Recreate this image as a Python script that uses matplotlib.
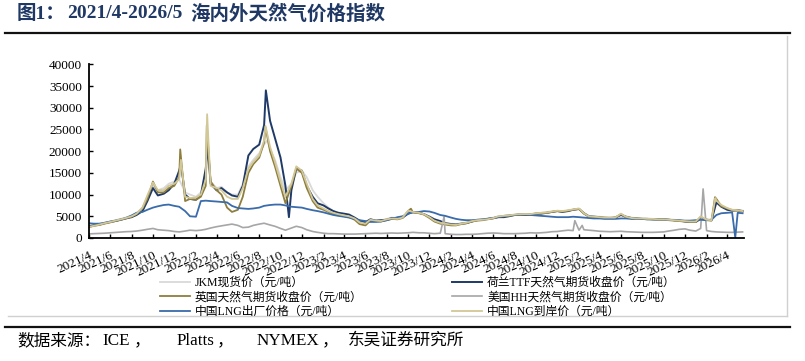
import matplotlib
matplotlib.use('Agg')
import matplotlib.pyplot as plt
from matplotlib.lines import Line2D
import pandas as pd

CJK = 'Noto Sans CJK SC'
SERIF = 'Liberation Serif'
MIX = [SERIF, CJK]

W, H = 805, 361

# ---------------- data (yuan/ton), semi-monthly: 1st & 15th, 2021/4 .. 2026/5 ----------------
grid = pd.date_range('2021-04-01', periods=124, freq='SMS')

jkm = [2800, 3000, 3300, 3500, 3800, 4100, 4400, 4700, 5100, 5700, 7000, 9500, 12000, 11000, 11500, 12500, 13000, 13500,
       10500, 10000, 9500, 10500, 15000, 13000, 11500, 11800, 10500, 10000, 10000, 12500, 16500, 18000, 19500, 21500, 20500, 18000, 14000, 11000, 12500, 15000, 15500, 14000,
       11000, 9500, 8000, 7000, 6200, 5900, 5500, 5200, 4600, 4000, 3800, 4300, 4100, 4100, 4400, 4700, 4600, 4800, 6000, 5900, 5800, 5500, 5000, 4400,
       3800, 3500, 3300, 3200, 3400, 3600, 4000, 4200, 4300, 4500, 4700, 5000, 5100, 5200, 5400, 5500, 5400, 5500, 5700, 5800, 6000, 6100, 6200, 6100,
       6300, 6500, 6600, 5800, 5100, 5000, 4900, 4800, 4800, 4800, 5400, 5000, 4700, 4600, 4500, 4500, 4400, 4400, 4400, 4300, 4200, 4100, 3900, 3800,
       3900, 4600, 4300, 4200, 8800, 7500, 6800, 6500, 6500, 6300]
jkm_spike_dates = ['2022-03-07', '2022-08-24']
jkm_spike_vals = [18000, 22500]

ttf = [2700, 2900, 3100, 3400, 3700, 3900, 4200, 4500, 4800, 5300, 6200, 8500, 11500, 9800, 10200, 11000, 12500, 15500,
       10000, 9000, 8800, 9800, 16000, 12500, 11000, 11500, 10500, 9800, 9500, 12000, 19000, 20500, 21500, 26000, 27000, 23000, 18500, 12000, 11000, 16000, 15500, 12000,
       9500, 8000, 7500, 6800, 6200, 5800, 5600, 5400, 4700, 4000, 3600, 4300, 4000, 4100, 4200, 4600, 4500, 4700, 5600, 6000, 5800, 5500, 4900, 4300,
       3900, 3400, 3200, 3100, 3300, 3400, 3800, 4100, 4200, 4400, 4600, 4800, 4800, 5000, 5300, 5400, 5300, 5400, 5600, 5600, 5800, 6000, 6200, 6000,
       6200, 6500, 6700, 5700, 5000, 4900, 4800, 4600, 4600, 4700, 5300, 4900, 4600, 4500, 4400, 4400, 4300, 4300, 4300, 4200, 4100, 4000, 3800, 3700,
       3700, 4400, 4200, 4100, 8200, 7200, 6500, 6300, 6400, 6200]
ttf_spike_dates = ['2021-12-20', '2022-03-07', '2022-08-20', '2022-10-25']
ttf_spike_vals = [17000, 21000, 34000, 4800]

uk = [2500, 2800, 3000, 3300, 3600, 3900, 4200, 4500, 4900, 5500, 6800, 9000, 13000, 10500, 10500, 11500, 12000, 14000,
      8500, 9000, 8800, 9500, 12000, 13000, 11000, 10000, 7000, 6000, 6500, 9500, 15000, 17000, 18500, 22000, 20000, 16500, 12000, 8000, 12000, 16000, 15000, 11500,
      8500, 7000, 6500, 6000, 5600, 5300, 5000, 4800, 4200, 3200, 2900, 4000, 3900, 3800, 4100, 4400, 4300, 4600, 6200, 5900, 5700, 5400, 4600, 3800,
      3300, 3100, 2900, 2900, 3200, 3400, 3800, 4000, 4100, 4300, 4500, 4900, 5000, 5100, 5300, 5400, 5400, 5500, 5600, 5700, 5800, 6000, 6200, 6100,
      6300, 6500, 6700, 5600, 4900, 4800, 4700, 4700, 4600, 4600, 5500, 4800, 4500, 4500, 4400, 4300, 4300, 4200, 4200, 4100, 4000, 3900, 3800, 3700,
      3700, 4800, 4100, 4000, 9000, 7300, 6800, 6400, 6300, 6100]
uk_spike_dates = ['2021-12-18', '2022-03-04', '2022-08-19', '2023-10-09', '2026-02-25']
uk_spike_vals = [20400, 26000, 25500, 6750, 9400]

hh = [950, 1000, 1050, 1100, 1200, 1300, 1400, 1450, 1500, 1600, 1800, 2000, 2200, 1900, 1800, 1700, 1500, 1400,
      1600, 1800, 1700, 1800, 2000, 2300, 2600, 2800, 3000, 3200, 2900, 2400, 2500, 2900, 3200, 3400, 3000, 2700, 2200, 1800, 2300, 2700, 2400, 1900,
      1500, 1300, 1100, 1000, 1000, 950, 900, 900, 900, 950, 1000, 1050, 1100, 1050, 1100, 1150, 1100, 1150, 1200, 1300, 1200, 1200, 1100, 1000,
      1100, 1000, 850, 800, 800, 850, 850, 900, 1000, 1100, 1150, 1100, 1000, 1000, 1000, 1050, 1100, 1200, 1150, 1200, 1300, 1450, 1500, 1650,
      1800, 1700, 1800, 1900, 1800, 1700, 1550, 1500, 1450, 1500, 1550, 1450, 1400, 1350, 1300, 1300, 1300, 1350, 1400, 1600, 1800, 2000, 2100, 1800,
      1600, 2200, 1700, 1500, 1400, 1350, 1300, 1300, 1350, 1400]
hh_spike_dates = ['2024-01-12', '2025-01-20', '2025-02-10', '2026-01-22']
hh_spike_vals = [4900, 4000, 2900, 11300]

cn_ex = [3400, 3300, 3300, 3500, 3800, 4000, 4300, 4600, 5200, 5800, 6000, 6500, 7000, 7300, 7600, 7700, 7400, 7200,
         6200, 5000, 4900, 8500, 8600, 8500, 8400, 8300, 8200, 7400, 6900, 6800, 6700, 6800, 7000, 7400, 7600, 7700, 7700, 7500, 7200, 7100, 7000, 6700,
         6400, 6200, 5900, 5600, 5300, 5100, 4900, 4700, 4400, 4100, 3900, 3700, 3700, 3800, 4100, 4400, 4800, 5000, 5600, 5900, 6000, 6200, 6100, 5800,
         5300, 5100, 4700, 4400, 4200, 4100, 4100, 4200, 4300, 4400, 4600, 4800, 5100, 5200, 5300, 5400, 5400, 5300, 5200, 5100, 5000, 4900, 4800, 4800,
         4800, 4900, 4800, 4700, 4600, 4500, 4500, 4400, 4400, 4400, 4500, 4500, 4400, 4400, 4400, 4300, 4300, 4300, 4300, 4200, 4100, 4100, 4000, 4000,
         4100, 4200, 4100, 4200, 5300, 5700, 5800, 5900, 5800, 5700]
cn_ex_spike_dates = ['2026-04-24']
cn_ex_spike_vals = [100]

cn_arr = [2600, 2800, 3100, 3400, 3700, 4000, 4300, 4600, 5000, 5600, 7000, 9800, 12800, 11000, 11000, 12000, 12500, 13500,
          9500, 9200, 9300, 10000, 13500, 12000, 11500, 11000, 9500, 9000, 9000, 11500, 16000, 17500, 19000, 22500, 21000, 17500, 13000, 9500, 12500, 16500, 15500, 12500,
          9000, 7500, 6800, 6200, 5800, 5500, 5200, 5000, 4500, 3600, 3300, 4200, 4000, 3900, 4300, 4500, 4400, 4700, 6300, 6000, 5800, 5500, 4800, 4000,
          3500, 3300, 3100, 3000, 3300, 3500, 3900, 4100, 4200, 4300, 4600, 5000, 5100, 5200, 5400, 5500, 5500, 5500, 5700, 5800, 5900, 6100, 6300, 6200,
          6400, 6600, 6800, 5700, 5000, 4900, 4800, 4700, 4700, 4700, 5600, 4900, 4600, 4500, 4500, 4400, 4400, 4300, 4300, 4200, 4100, 4000, 3900, 3800,
          3800, 5000, 4200, 4100, 8600, 7600, 6900, 6500, 6400, 6200]
cn_arr_spike_dates = ['2021-12-20', '2022-03-05', '2022-08-19', '2026-02-26']
cn_arr_spike_vals = [18000, 28500, 25800, 9200]

labels = ['JKM现货价（元/吨）', '荷兰TTF天然气期货收盘价（元/吨）', '英国天然气期货收盘价（元/吨）',
          '美国HH天然气期货收盘价（元/吨）', '中国LNG出厂价格（元/吨）', '中国LNG到岸价（元/吨）']
colors = ['#D9D9D9', '#1F3A68', '#8E7E3E', '#A6A6A6', '#3A6BAA', '#D2C796']

tick_dates = pd.date_range('2021-04-01', '2026-04-01', freq='2MS')
tick_labels = [f'{d.year}/{d.month}' for d in tick_dates]
yticks = [0, 5000, 10000, 15000, 20000, 25000, 30000, 35000, 40000]

title_parts = ['图1：', '2021/4-2026/5', '海内外天然气价格指数']
source_parts = ['数据来源：', 'ICE', '，', 'Platts', '，', 'NYMEX', '，', '东吴证券研究所']


def build(vals, sd, sv):
    s = pd.Series(vals, index=grid, dtype=float)
    if sd:
        s = pd.concat([s, pd.Series(sv, index=pd.to_datetime(sd), dtype=float)]).sort_index()
    return s


series = [build(jkm, jkm_spike_dates, jkm_spike_vals),
          build(ttf, ttf_spike_dates, ttf_spike_vals),
          build(uk, uk_spike_dates, uk_spike_vals),
          build(hh, hh_spike_dates, hh_spike_vals),
          build(cn_ex, cn_ex_spike_dates, cn_ex_spike_vals),
          build(cn_arr, cn_arr_spike_dates, cn_arr_spike_vals)]
widths = [1.3, 1.4, 1.3, 1.2, 1.3, 1.3]

# ---------------- figure ----------------
fig = plt.figure(figsize=(W / 100, H / 100), dpi=100)
ax = fig.add_axes([89 / W, 1 - 238 / H, (744 - 89) / W, (238 - 64.3) / H])

handles = []
for s, c, lw, lab in zip(series, colors, widths, labels):
    h, = ax.plot(s.index, s.values, color=c, lw=lw, label=lab, solid_joinstyle='round')
    handles.append(h)

ax.set_ylim(0, 40000)
ax.set_yticks(yticks)
ax.set_xlim(pd.Timestamp('2021-04-01'), pd.Timestamp('2026-05-19'))
ax.set_xticks(tick_dates)
ax.set_xticklabels(tick_labels, rotation=25, ha='right', rotation_mode='anchor', va='top',
                   fontfamily=SERIF, fontsize=9.5)
for t in ax.get_yticklabels():
    t.set_fontfamily(SERIF)
    t.set_fontsize(9.5)
ax.tick_params(axis='both', direction='in', length=3, width=1, color='black')
ax.tick_params(axis='x', pad=8)
ax.tick_params(axis='y', pad=5)
for sp in ['top', 'right']:
    ax.spines[sp].set_visible(False)
for sp in ['left', 'bottom']:
    ax.spines[sp].set_linewidth(1.3)
    ax.spines[sp].set_color('black')

# legend: two columns
order1 = [0, 2, 4]
order2 = [1, 3, 5]
leg_kw = dict(frameon=False, loc='upper left', borderpad=0, borderaxespad=0,
              handlelength=2.55, handletextpad=0.42, labelspacing=0.2,
              prop={'family': MIX, 'size': 8.5})
leg1 = fig.legend([handles[i] for i in order1], [labels[i] for i in order1],
                  bbox_to_anchor=(160 / W, 1 - 277 / H), **leg_kw)
leg2 = fig.legend([handles[i] for i in order2], [labels[i] for i in order2],
                  bbox_to_anchor=(452 / W, 1 - 277 / H), **leg_kw)

# title, rules, source
title_x = [17, 67, 190]
for txt, x in zip(title_parts, title_x):
    fig.text(x / W, 1 - 14 / H, txt, fontfamily=MIX, fontweight='bold', fontsize=14,
             color='#1F3864', ha='left', va='center')
fig.add_artist(Line2D([5 / W, 790 / W], [1 - 33 / H, 1 - 33 / H], color='#111111', lw=1.6))
fig.add_artist(Line2D([5 / W, 790 / W], [1 - 327 / H, 1 - 327 / H], color='#111111', lw=1.6))
fig.add_artist(Line2D([787 / W, 787 / W], [1 - 36 / H, 1 - 316 / H], color='#D0D0D0', lw=1.0))
fig.add_artist(Line2D([8 / W, 787 / W], [1 - 316 / H, 1 - 316 / H], color='#D0D0D0', lw=1.0))
source_x = [17, 102, 134, 177, 217, 257, 322, 348]
source_size = [12, 12.3, 12, 12.3, 12, 12.3, 12, 12]
for txt, x, fs in zip(source_parts, source_x, source_size):
    fig.text(x / W, 1 - 341 / H, txt, fontfamily=MIX, fontsize=fs, color='black',
             ha='left', va='center')

fig.savefig('out.png', dpi=100)
